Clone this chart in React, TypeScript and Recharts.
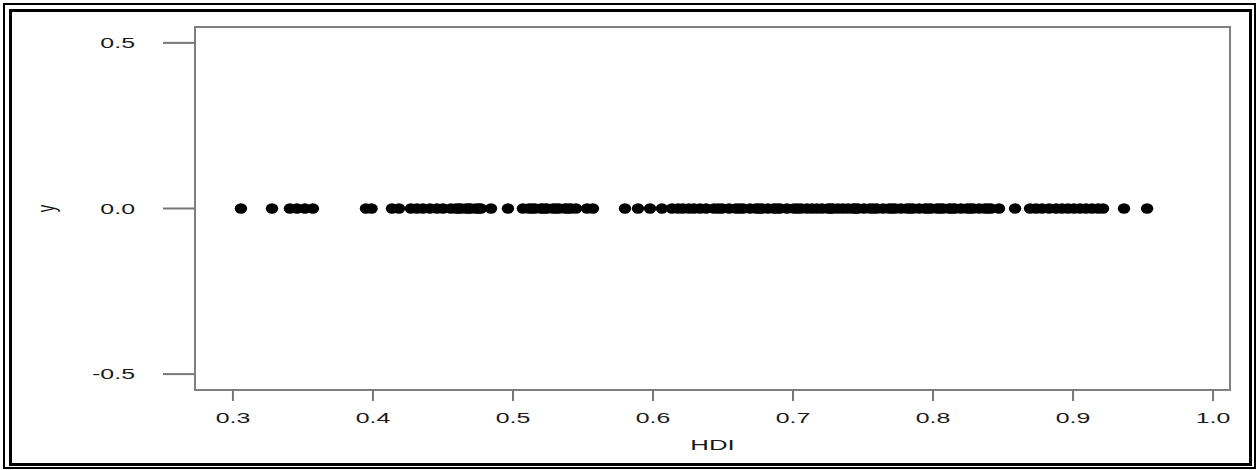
import React from "react";
import {
  ScatterChart,
  Scatter,
  XAxis,
  YAxis,
  ReferenceArea,
  Label,
} from "recharts";

// HDI values (all plotted at y = 0)
const hdiValues = [
  0.3057, 0.3279, 0.3407, 0.3457, 0.3514, 0.3571, 0.395, 0.399,
  0.4136, 0.4186, 0.4271, 0.4314, 0.4357, 0.4407, 0.4457, 0.45,
  0.4557, 0.4593, 0.4611, 0.4629, 0.4664, 0.4682, 0.47, 0.4736,
  0.4754, 0.4771, 0.4843, 0.4964, 0.5071, 0.5114, 0.5136, 0.5157,
  0.52, 0.5221, 0.5243, 0.5286, 0.5307, 0.5329, 0.5371, 0.5393,
  0.5414, 0.545, 0.5529, 0.5571, 0.58, 0.5893, 0.5979, 0.6064,
  0.6136, 0.6179, 0.6214, 0.6257, 0.6293, 0.6336, 0.6379, 0.6436,
  0.6465, 0.6493, 0.6543, 0.6593, 0.6618, 0.6643, 0.6693, 0.6736,
  0.6757, 0.6779, 0.6821, 0.6864, 0.6885, 0.6907, 0.6957, 0.7007,
  0.7032, 0.7057, 0.71, 0.7136, 0.7171, 0.7207, 0.725, 0.7268,
  0.7286, 0.7321, 0.7357, 0.7393, 0.7429, 0.7446, 0.7464, 0.7507,
  0.755, 0.7575, 0.76, 0.7643, 0.7686, 0.7707, 0.7729, 0.7771,
  0.7814, 0.7836, 0.7857, 0.79, 0.7943, 0.7964, 0.7986, 0.8029,
  0.805, 0.8071, 0.8114, 0.8136, 0.8157, 0.82, 0.8243, 0.8264,
  0.8286, 0.8329, 0.8371, 0.8393, 0.8414, 0.8471, 0.8586, 0.8693,
  0.8736, 0.8779, 0.8829, 0.8879, 0.8921, 0.8964, 0.9007, 0.905,
  0.9093, 0.9136, 0.9179, 0.9214, 0.9364, 0.9529,
];
const yValue = 0;

const xTicks = [0.3, 0.4, 0.5, 0.6, 0.7, 0.8, 0.9, 1.0];
const yTicks = [-0.5, 0, 0.5];
const xDomain = [0.2729, 1.0121];
const yDomain = [-0.548, 0.548];

const data = hdiValues.map((v) => ({ hdi: v, y: yValue }));

const FONT = "'Liberation Sans', Arial, Helvetica, sans-serif";
const STRETCH = 1.72;
const TEXT = "#1a1a1a";

const XTick = (props: any) => {
  const { x, y, payload } = props;
  return (
    <text
      transform={`translate(${x},${y}) scale(${STRETCH},1)`}
      textAnchor="middle"
      dy="0.71em"
      fontSize={14.5}
      fontFamily={FONT}
      fill={TEXT}
    >
      {Number(payload.value).toFixed(1)}
    </text>
  );
};

const YTick = (props: any) => {
  const { x, y, payload } = props;
  return (
    <text
      transform={`translate(${x},${y}) scale(${STRETCH},1)`}
      textAnchor="end"
      dy="0.355em"
      fontSize={14.5}
      fontFamily={FONT}
      fill={TEXT}
    >
      {Number(payload.value).toFixed(1)}
    </text>
  );
};

const Dot = (props: any) => {
  const { cx, cy } = props;
  return <ellipse cx={cx} cy={cy} rx={6.2} ry={5.2} fill="#000" />;
};

export default function App() {
  return (
    <div style={{ position: "absolute", left: 0, top: 0, width: 1258, height: 470, background: "#fff" }}>
      <div
        style={{
          position: "absolute",
          left: 3,
          top: 3,
          width: 1249,
          height: 462,
          border: "2px solid #000",
        }}
      />
      <div
        style={{
          position: "absolute",
          left: 9,
          top: 9,
          width: 1237,
          height: 451,
          border: "3px solid #000",
        }}
      />
      <div style={{ position: "absolute", left: 0, top: 0 }}>
        <ScatterChart
          width={1258}
          height={470}
          margin={{ top: 27, right: 28, left: 135, bottom: 50 }}
        >
          <XAxis
            type="number"
            dataKey="hdi"
            domain={xDomain}
            ticks={xTicks}
            allowDataOverflow
            axisLine={false}
            tickSize={11}
            tickMargin={12}
            tickLine={{ stroke: "#777", strokeWidth: 2 }}
            tick={<XTick />}
            height={30}
            interval={0}
          >
            <Label
              content={(p: any) => {
                const vb = p.viewBox;
                return (
                  <text
                    transform={`translate(${vb.x + vb.width / 2},${445}) scale(${STRETCH},1)`}
                    textAnchor="middle"
                    dy="0.355em"
                    fontSize={15}
                    fontFamily={FONT}
                    fill={TEXT}
                  >
                    HDI
                  </text>
                );
              }}
            />
          </XAxis>
          <YAxis
            type="number"
            dataKey="y"
            domain={yDomain}
            ticks={yTicks}
            allowDataOverflow
            axisLine={false}
            tickSize={32}
            tickMargin={28}
            tickLine={{ stroke: "#777", strokeWidth: 2 }}
            tick={<YTick />}
            width={60}
            interval={0}
          >
            <Label
              content={(p: any) => {
                const vb = p.viewBox;
                return (
                  <text
                    transform={`translate(${46},${vb.y + vb.height / 2}) scale(${STRETCH},1) rotate(-90)`}
                    textAnchor="middle"
                    dy="0.355em"
                    fontSize={15}
                    fontFamily={FONT}
                    fill={TEXT}
                  >
                    y
                  </text>
                );
              }}
            />
          </YAxis>
          <ReferenceArea
            x1={xDomain[0]}
            x2={xDomain[1]}
            y1={yDomain[0]}
            y2={yDomain[1]}
            fill="none"
            stroke="#808080"
            strokeWidth={2}
            ifOverflow="visible"
          />
          <Scatter data={data} shape={<Dot />} isAnimationActive={false} />
        </ScatterChart>
      </div>
    </div>
  );
}
